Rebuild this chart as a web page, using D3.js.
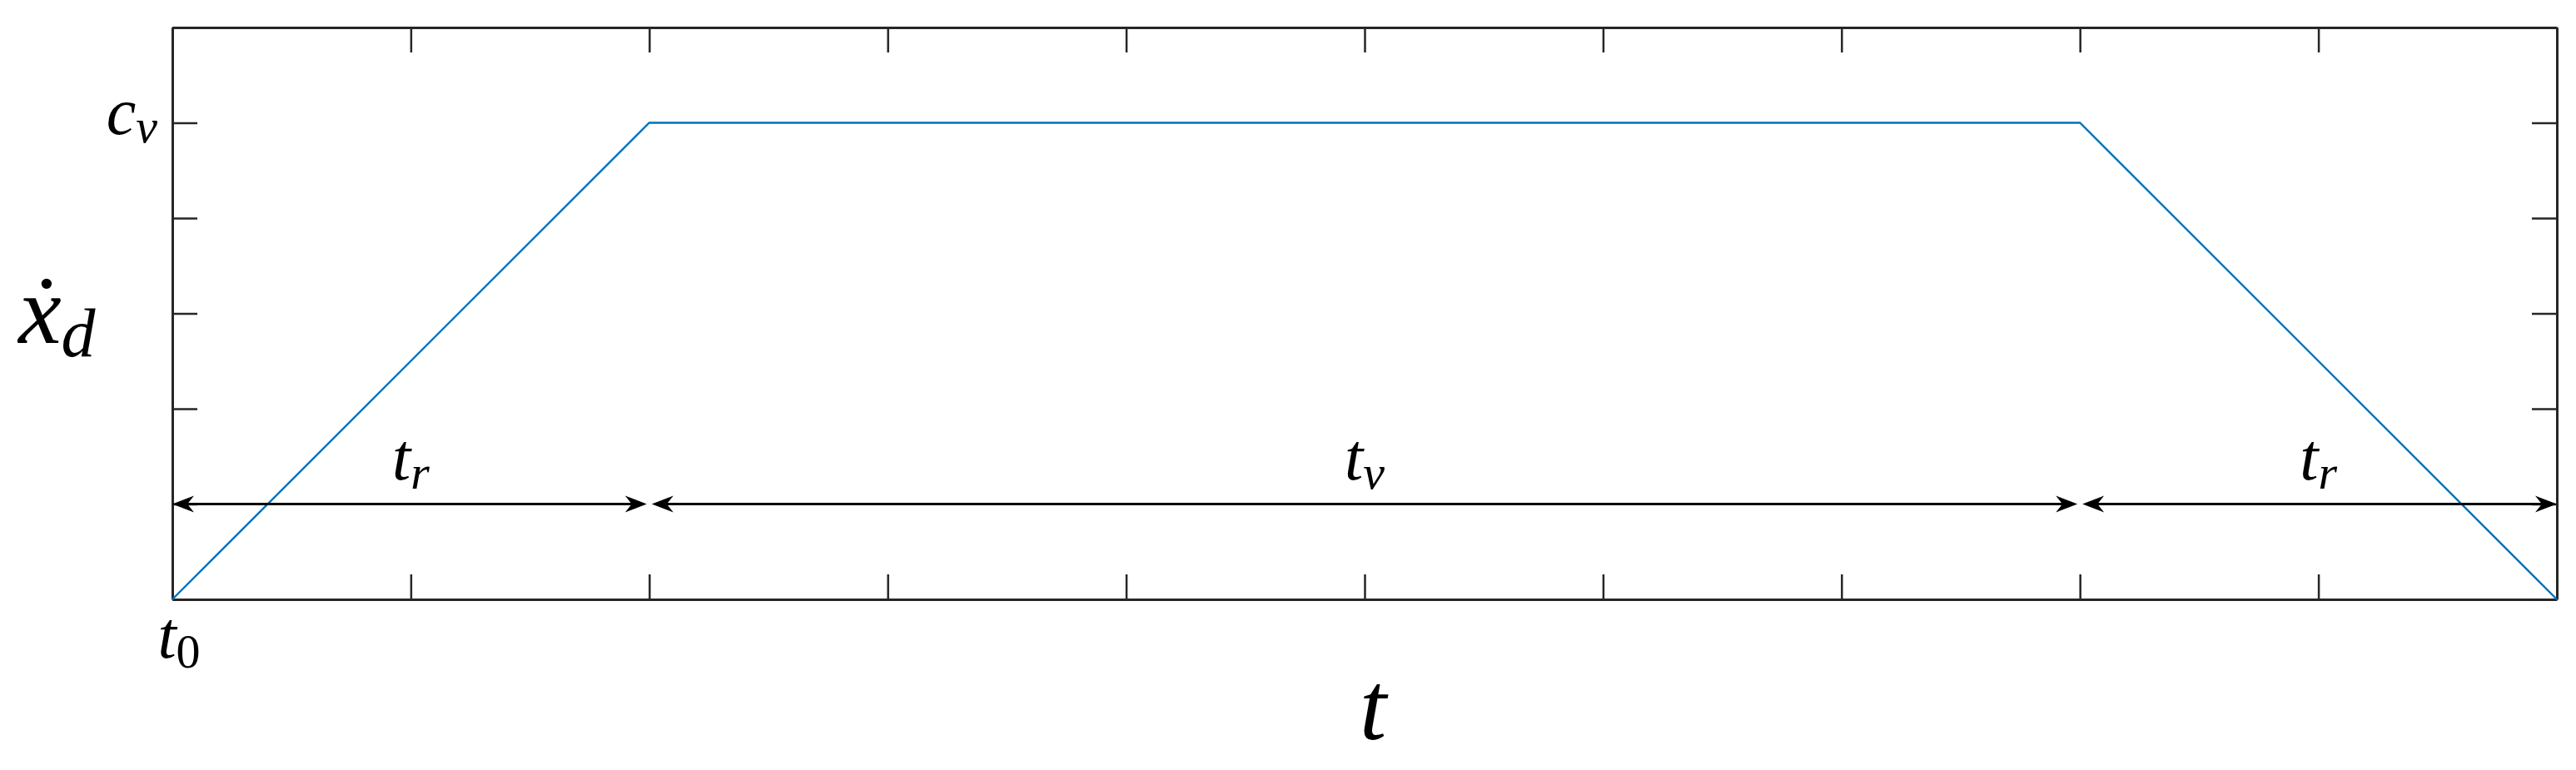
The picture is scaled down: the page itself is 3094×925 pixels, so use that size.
<html>
  <head>
    <script src="https://d3js.org/d3.v7.min.js"></script>
  <style>
    body { margin: 0; background: white; }
    .axis path, .axis line { stroke: #262626; }
  </style>
  </head>

  <body>
    <svg id="mainSVG" width="3094" height="925"></svg>
  </body>

  <script>
      // velocity profile (trapezoid)
      const profileT = [0, 2, 8, 10];
      const profileV = [0, 1, 1, 0];

      // tick positions
      const xTicks = [0, 1, 2, 3, 4, 5, 6, 7, 8, 9, 10];
      const yTicks = [0, 0.2, 0.4, 0.6, 0.8, 1.0, 1.2];

      // time spans shown with double arrows
      const spanStart = [0, 2, 8];
      const spanEnd = [2, 8, 10];
      const spanSub = ["r", "v", "r"];
      const arrowLevel = 0.2;

      const serif = "'Liberation Serif', serif";

      const svg = d3.select("#mainSVG");
      const plotLeft = 207, plotRight = 3071, plotTop = 33, plotBottom = 720;

      const x = d3.scaleLinear().domain([0, 10]).range([plotLeft, plotRight]);
      const y = d3.scaleLinear().domain([0, 1.2]).range([plotBottom, plotTop]);

      const tickLen = 30;

      // box with inward ticks on all four sides
      svg.append("g").attr("class", "axis")
        .attr("transform", `translate(0,${plotBottom})`)
        .call(d3.axisBottom(x).tickValues(xTicks).tickSize(-tickLen).tickSizeOuter(0).tickFormat(""));
      svg.append("g").attr("class", "axis")
        .attr("transform", `translate(0,${plotTop})`)
        .call(d3.axisTop(x).tickValues(xTicks).tickSize(-tickLen).tickSizeOuter(0).tickFormat(""));
      svg.append("g").attr("class", "axis")
        .attr("transform", `translate(${plotLeft},0)`)
        .call(d3.axisLeft(y).tickValues(yTicks).tickSize(-tickLen).tickSizeOuter(0).tickFormat(""));
      svg.append("g").attr("class", "axis")
        .attr("transform", `translate(${plotRight},0)`)
        .call(d3.axisRight(y).tickValues(yTicks).tickSize(-tickLen).tickSizeOuter(0).tickFormat(""));
      svg.selectAll(".axis path").attr("stroke-width", 3);
      svg.selectAll(".axis line").attr("stroke-width", 2.5);

      // the profile
      const line = d3.line().x(d => x(d[0])).y(d => y(d[1]));
      svg.append("path")
        .datum(d3.zip(profileT, profileV))
        .attr("d", line)
        .attr("fill", "none")
        .attr("stroke", "#0072BD")
        .attr("stroke-width", 2.4);

      // arrowhead: tip at origin, pointing +x
      const headL = 26, headW = 10, notch = 8;
      function head(px, py, dir) {
        const p = [[0, 0], [-headL, -headW], [-headL + notch, 0], [-headL, headW]]
          .map(q => [px + dir * q[0], py + q[1]]);
        return "M" + p.join("L") + "Z";
      }

      function texLabel(px, py, anchor) {
        return svg.append("text")
          .attr("x", px).attr("y", py)
          .attr("text-anchor", anchor)
          .attr("font-family", serif)
          .attr("fill", "black");
      }

      const ay = y(arrowLevel);
      spanStart.forEach((s, i) => {
        const x0 = x(s) + 3 * (s > 0 ? 1 : 0);
        const x1 = x(spanEnd[i]) - 3 * (spanEnd[i] < 10 ? 1 : 0);
        svg.append("line")
          .attr("x1", x0 + 10).attr("x2", x1 - 10)
          .attr("y1", ay).attr("y2", ay)
          .attr("stroke", "black").attr("stroke-width", 3.2);
        svg.append("path").attr("d", head(x0, ay, -1)).attr("fill", "black");
        svg.append("path").attr("d", head(x1, ay, 1)).attr("fill", "black");

        const lbl = texLabel((x(s) + x(spanEnd[i])) / 2, ay - 30, "middle");
        lbl.append("tspan").attr("font-style", "italic").attr("font-size", 80).text("t");
        lbl.append("tspan").attr("font-style", "italic").attr("font-size", 58).attr("dy", 11).text(spanSub[i]);
      });

      // tick labels
      const t0 = texLabel(x(0) + 8, 790, "middle");
      t0.append("tspan").attr("font-style", "italic").attr("font-size", 80).text("t");
      t0.append("tspan").attr("font-size", 58).attr("dy", 12).text("0");

      const cv = texLabel(plotLeft - 18, y(1) + 13, "end");
      cv.append("tspan").attr("font-style", "italic").attr("font-size", 80).text("c");
      cv.append("tspan").attr("font-style", "italic").attr("font-size", 58).attr("dy", 10).text("v");

      // axis labels
      texLabel((plotLeft + plotRight) / 2 + 10, 888, "middle")
        .attr("font-style", "italic").attr("font-size", 116)
        .text("t");

      const yl = texLabel(22, 412, "start");
      yl.append("tspan").attr("font-style", "italic").attr("font-size", 116).text("ẋ");
      yl.append("tspan").attr("font-style", "italic").attr("font-size", 82).attr("dy", 16).text("d");
  </script>
</html>
